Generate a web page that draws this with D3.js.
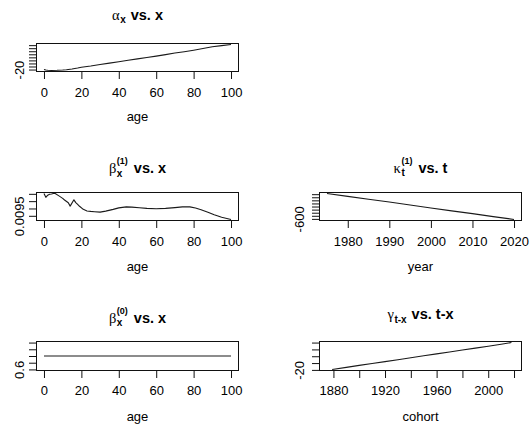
<!DOCTYPE html>
<html>
<head>
<meta charset="utf-8">
<script src="https://cdn.jsdelivr.net/npm/d3@7"></script>
<style>
  body { margin: 0; background: #fff; }
  svg { display: block; }
</style>
</head>
<body>
<svg id="chart" width="531" height="425"></svg>
<script>
// ---- fitted parameters ----
const ages = [0, 100];
const years = [1975, 2020];

const alphaAges = [0,1,2,4,7,10,12,15,18,20,25,30,35,40,45,50,55,60,65,70,75,80,85,90,95,100];
const alphaValues = [-20.0,-20.3,-20.5,-20.6,-20.5,-20.3,-20.1,-19.6,-19.0,-18.5,-17.7,-16.7,-15.8,-14.9,-13.9,-13.0,-12.1,-11.2,-10.2,-9.2,-8.3,-7.3,-6.2,-5.1,-4.3,-3.6];

const beta1Ages = [0,1,2,3,4,5,6,8,10,11,13,14,16,17,18,19,21,23,25,27,30,33,37,40,44,47,51,55,60,65,70,74,78,81,84,88,91,95,100];
const beta1Values = [0.01102,0.01076,0.01091,0.01097,0.01099,0.01102,0.01102,0.01086,0.01069,0.01058,0.01039,0.01016,0.01059,0.01040,0.01028,0.01015,0.00994,0.00983,0.00980,0.00978,0.00975,0.00982,0.00994,0.01004,0.01011,0.01009,0.01005,0.01001,0.00998,0.01001,0.01006,0.01011,0.01011,0.01003,0.00991,0.00973,0.00957,0.00940,0.00925];

const kappaYears = [1975,1980,1985,1990,1995,2000,2005,2010,2015,2020];
const kappaValues = [221,130,36,-55,-150,-246,-340,-430,-527,-619];

const beta0Ages = [0, 100];
const beta0Values = [1, 1];

const gammaCohorts = [1879,1890,1900,1910,1920,1930,1940,1950,1960,1970,1980,1990,2000,2010,2018];
const gammaValues = [-19.3,-16.3,-13.4,-10.6,-7.9,-5.1,-2.3,0.6,3.4,6.3,9.1,11.9,14.6,17.6,20.0];

// tick values
const ageTicks = [0,20,40,60,80,100];
const alphaTicks = [-20,-18,-16,-14,-12,-10,-8,-6,-4];
const beta1Ticks = [0.0095,0.0100,0.0105,0.0110];
const yearTicks = [1980,1990,2000,2010,2020];
const kappaTicks = [-600,-500,-400,-300,-200,-100,0,100,200];
const beta0Ticks = [0.6,0.8,1.0,1.2,1.4];
const cohortTicks = [1880,1900,1920,1940,1960,1980,2000,2020];
const gammaTicks = [-20,-10,0,10,20];

const cohortRange = [d3.min(years) - d3.max(ages), d3.max(years) - d3.min(ages)];

// ---- drawing ----
const svg = d3.select("#chart");
const SANS = "'Liberation Sans', Arial, Helvetica, sans-serif";
const GREEK = "'Liberation Serif', 'DejaVu Serif', serif";
const LABEL_SIZE = 13;
const TITLE_SIZE = 14.5;

svg.append("rect").attr("width", 531).attr("height", 425).attr("fill", "#fff");

// base-graphics style range: constant series widen by 40%, then extend 4% each side
function padded(ext) {
  let [a, b] = ext;
  if (a === b) { const t = a === 0 ? 1 : 0.4 * Math.abs(a); a -= t; b += t; }
  const d = (b - a) * 0.04;
  return [a - d, b + d];
}

const mWidth = (() => {
  const t = svg.append("text").attr("font-family", SANS).attr("font-size", LABEL_SIZE).text("m");
  const w = t.node().getComputedTextLength(); t.remove(); return w;
})();

function drawTitle(cx, base, pieces) {
  const g = svg.append("g");
  let cur = 0;
  pieces.forEach(p => {
    if (p.greek) {
      const t = g.append("text").attr("x", cur).attr("y", 0)
        .attr("font-family", GREEK).attr("font-size", TITLE_SIZE).text(p.greek);
      cur += t.node().getComputedTextLength() + 0.5;
    } else if (p.text) {
      cur += p.gap || 0;
      const t = g.append("text").attr("x", cur).attr("y", 0)
        .attr("font-family", SANS).attr("font-weight", "bold").attr("font-size", TITLE_SIZE).text(p.text);
      cur += t.node().getComputedTextLength();
    } else {
      let w = 0;
      if (p.sub) {
        const t = g.append("text").attr("x", cur).attr("y", 3.2)
          .attr("font-family", SANS).attr("font-weight", "bold").attr("font-size", 10).text(p.sub);
        w = Math.max(w, t.node().getComputedTextLength());
      }
      if (p.sup) {
        const t = g.append("text").attr("x", cur).attr("y", -9)
          .attr("font-family", SANS).attr("font-weight", "bold").attr("font-size", 9).text(p.sup);
        w = Math.max(w, t.node().getComputedTextLength());
      }
      cur += w;
    }
  });
  g.attr("transform", `translate(${cx - cur / 2},${base})`);
}

function panel(cfg) {
  const g = svg.append("g");
  const x = d3.scaleLinear().domain(padded(cfg.xExtent)).range([cfg.x0, cfg.x1]);
  const y = d3.scaleLinear().domain(padded(cfg.yExtent)).range([cfg.y1, cfg.y0]);

  // series
  const line = d3.line().x(d => x(d[0])).y(d => y(d[1]));
  g.append("path")
    .datum(d3.zip(cfg.xs, cfg.ys))
    .attr("d", line)
    .attr("fill", "none")
    .attr("stroke", "#1a1a1a")
    .attr("stroke-width", 1.1)
    .attr("stroke-linejoin", "round");

  // x axis
  const gx = g.append("g").attr("transform", `translate(0,${cfg.y1})`)
    .call(d3.axisBottom(x).tickValues(cfg.xTicks).tickSize(7.5).tickSizeOuter(0).tickFormat(d => String(d)));
  gx.select(".domain").remove();
  gx.selectAll(".tick line").attr("stroke", "#111");
  gx.attr("font-family", SANS).attr("font-size", LABEL_SIZE);
  gx.selectAll(".tick text").attr("y", cfg.tickBase - cfg.y1).attr("dy", null).attr("fill", "#000");
  // drop labels that would collide with the previous one
  let lastRight = -Infinity;
  gx.selectAll(".tick").each(function (d) {
    const t = d3.select(this).select("text");
    const w = t.node().getComputedTextLength();
    const left = x(d) - w / 2;
    if (left < lastRight + 1.1 * mWidth) t.remove();
    else lastRight = x(d) + w / 2;
  });

  // y axis
  const gy = g.append("g").attr("transform", `translate(${cfg.x0},0)`)
    .call(d3.axisLeft(y).tickValues(cfg.yTicks).tickSize(7.5).tickSizeOuter(0).tickFormat(d => String(d)));
  gy.select(".domain").remove();
  gy.selectAll(".tick line").attr("stroke", "#111");
  gy.attr("font-family", SANS).attr("font-size", LABEL_SIZE);
  gy.selectAll(".tick text")
    .attr("x", 0).attr("dy", null).attr("text-anchor", "middle").attr("fill", "#000")
    .attr("transform", `translate(${-cfg.yLabOff},0) rotate(-90)`);
  let lastTop = Infinity;
  gy.selectAll(".tick").each(function (d) {
    const t = d3.select(this).select("text");
    const w = t.node().getComputedTextLength();
    const bottom = y(d) + w / 2;
    if (bottom > lastTop - 1.1 * mWidth) t.remove();
    else lastTop = y(d) - w / 2;
  });

  // frame
  g.append("rect")
    .attr("x", cfg.x0).attr("y", cfg.y0)
    .attr("width", cfg.x1 - cfg.x0).attr("height", cfg.y1 - cfg.y0)
    .attr("fill", "none").attr("stroke", "#111").attr("stroke-width", 1);

  // axis title
  g.append("text")
    .attr("x", (cfg.x0 + cfg.x1) / 2).attr("y", cfg.labBase)
    .attr("text-anchor", "middle").attr("font-family", SANS).attr("font-size", LABEL_SIZE)
    .text(cfg.xLabel);

  drawTitle((cfg.x0 + cfg.x1) / 2, cfg.titleBase, cfg.title);
}

const L = { x0: 36.5, x1: 238.5, yLabOff: 13 };
const R = { x0: 319.5, x1: 521.5, yLabOff: 15.7 };

panel({ ...L, y0: 43.5, y1: 71.5, tickBase: 96.5, labBase: 120.5, titleBase: 19.5,
  xs: alphaAges, ys: alphaValues, xExtent: d3.extent(alphaAges), yExtent: d3.extent(alphaValues),
  xTicks: ageTicks, yTicks: alphaTicks, xLabel: "age",
  title: [{ greek: "α" }, { sub: "x" }, { text: "vs. x", gap: 5 }] });

panel({ ...L, y0: 192.5, y1: 220.5, tickBase: 245.5, labBase: 271, titleBase: 173.3,
  xs: beta1Ages, ys: beta1Values, xExtent: d3.extent(beta1Ages), yExtent: d3.extent(beta1Values),
  xTicks: ageTicks, yTicks: beta1Ticks, xLabel: "age",
  title: [{ greek: "β" }, { sub: "x", sup: "(1)" }, { text: "vs. x", gap: 6 }] });

panel({ ...R, y0: 192.5, y1: 220.5, tickBase: 245.5, labBase: 271, titleBase: 172.7,
  xs: kappaYears, ys: kappaValues, xExtent: d3.extent(kappaYears), yExtent: d3.extent(kappaValues),
  xTicks: yearTicks, yTicks: kappaTicks, xLabel: "year",
  title: [{ greek: "κ" }, { sub: "t", sup: "(1)" }, { text: "vs. t", gap: 6 }] });

panel({ ...L, y0: 341.5, y1: 370.5, tickBase: 395, labBase: 420.5, titleBase: 322.7,
  xs: beta0Ages, ys: beta0Values, xExtent: d3.extent(beta0Ages), yExtent: d3.extent(beta0Values),
  xTicks: ageTicks, yTicks: beta0Ticks, xLabel: "age",
  title: [{ greek: "β" }, { sub: "x", sup: "(0)" }, { text: "vs. x", gap: 6 }] });

panel({ ...R, y0: 341.5, y1: 370.5, tickBase: 395, labBase: 420.5, titleBase: 319.3,
  xs: gammaCohorts, ys: gammaValues, xExtent: cohortRange, yExtent: d3.extent(gammaValues),
  xTicks: cohortTicks, yTicks: gammaTicks, xLabel: "cohort",
  title: [{ greek: "γ" }, { sub: "t-x" }, { text: "vs. t-x", gap: 5 }] });
</script>
</body>
</html>
